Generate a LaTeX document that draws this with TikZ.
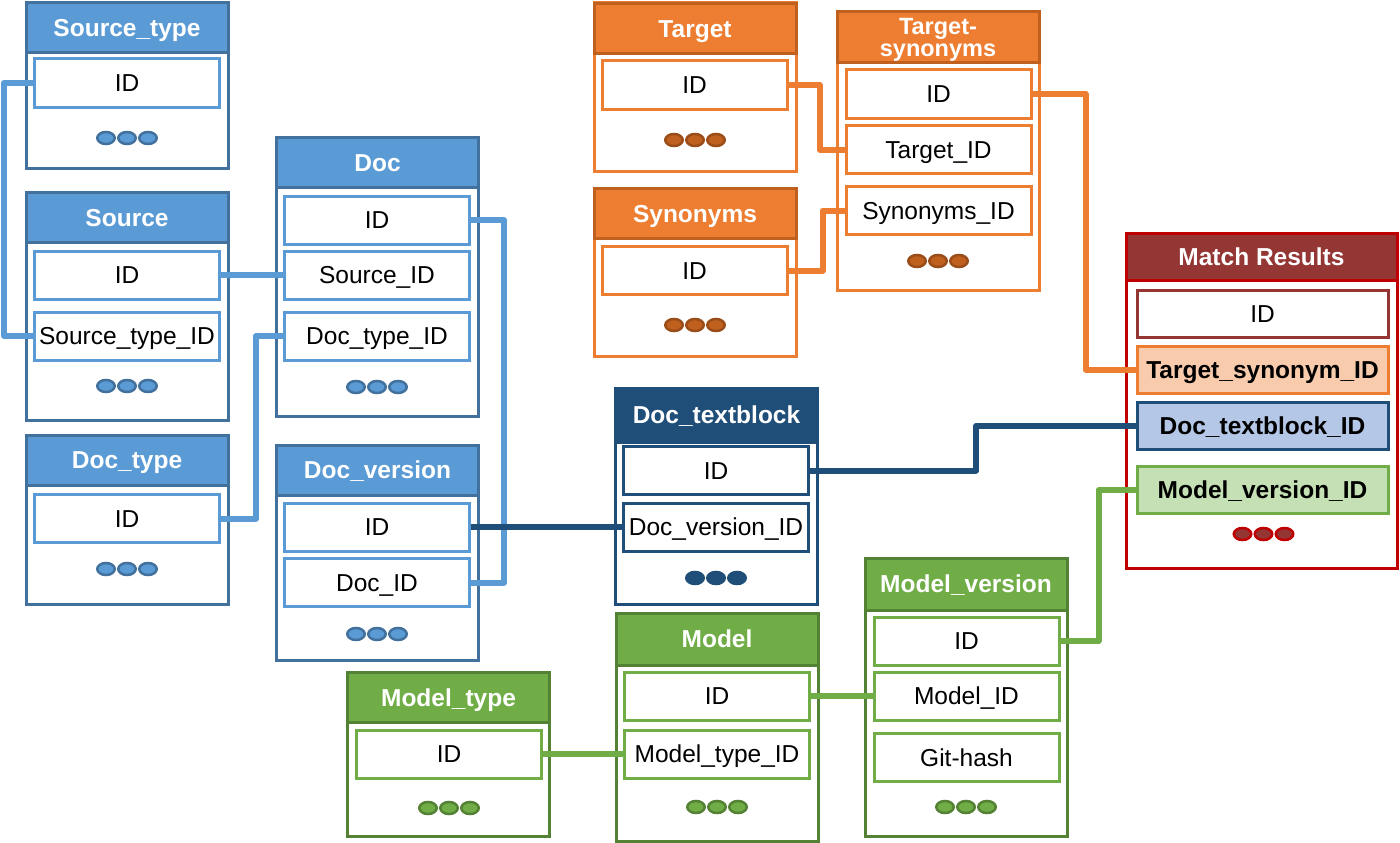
\documentclass[tikz,border=0pt]{standalone}
\usepackage{fontspec}
\setmainfont{Liberation Sans}
\usetikzlibrary{shapes.geometric}

\definecolor{lblue}{HTML}{5B9BD5}
\definecolor{lblueD}{HTML}{41719C}
\definecolor{dblue}{HTML}{1F4E79}
\definecolor{dblueL}{HTML}{B4C7E7}
\definecolor{orng}{HTML}{ED7D31}
\definecolor{orngD}{HTML}{C0601E}
\definecolor{orngL}{HTML}{F8CBAD}
\definecolor{grn}{HTML}{70AD47}
\definecolor{grnD}{HTML}{548235}
\definecolor{grnL}{HTML}{C5E0B4}
\definecolor{mred}{HTML}{943634}
\definecolor{mredD}{HTML}{C00000}

\begin{document}
\begin{tikzpicture}[x=1pt,y=-1pt,
  every node/.style={font=\fontsize{24.5}{28}\selectfont, inner sep=0pt},
  tbl/.style={draw=#1, line width=3pt, fill=white, minimum width=202pt},
  head/.style 2 args={draw=#2, fill=#1, line width=3pt, minimum width=202pt, minimum height=50pt,
    text=white, align=center, text height=17.5pt, text depth=0pt,
    font=\fontsize{24.5}{21}\selectfont\bfseries},
  fld/.style={draw=#1, line width=3pt, fill=white, minimum width=185pt, minimum height=48pt,
    text height=17.5pt, text depth=0pt},
  boldtxt/.style={font=\fontsize{24.5}{28}\selectfont\bfseries},
  dot/.style 2 args={ellipse, fill=#1, draw=#2, line width=2.5pt, minimum width=17.5pt, minimum height=12pt},
  link/.style={draw=#1, line width=6pt, line join=round}]
  \useasboundingbox (0,0) rectangle (1400,843);

  % Source_type
  \node[tbl=lblueD, minimum height=165pt] (stype) at (127,85.5) {};
  \node[head={lblue}{lblueD}] (stype-h) at (127,27.5) {Source\_type};
  \node[fld=lblue] (stype-id) at (127,83) {ID};

  % Source
  \node[tbl=lblueD, minimum height=227pt] (src) at (127,306.5) {};
  \node[head={lblue}{lblueD}] (src-h) at (127,217.5) {Source};
  \node[fld=lblue] (src-id) at (127,275) {ID};
  \node[fld=lblue] (src-stid) at (127,336) {Source\_type\_ID};

  % Doc_type
  \node[tbl=lblueD, minimum height=169pt] (dtype) at (127,519.5) {};
  \node[head={lblue}{lblueD}] (dtype-h) at (127,460) {Doc\_type};
  \node[fld=lblue] (dtype-id) at (127,518.5) {ID};

  % Doc
  \node[tbl=lblueD, minimum height=278pt] (doc) at (377.5,277) {};
  \node[head={lblue}{lblueD}] (doc-h) at (377.5,162.5) {Doc};
  \node[fld=lblue] (doc-id) at (377,220) {ID};
  \node[fld=lblue] (doc-srcid) at (377,275) {Source\_ID};
  \node[fld=lblue] (doc-dtid) at (377,336) {Doc\_type\_ID};

  % Doc_version
  \node[tbl=lblueD, minimum height=215pt] (dver) at (377.5,552.5) {};
  \node[head={lblue}{lblueD}] (dver-h) at (377.5,470) {Doc\_version};
  \node[fld=lblue] (dver-id) at (377,527) {ID};
  \node[fld=lblue] (dver-docid) at (377,582.5) {Doc\_ID};

  % Doc_textblock
  \node[tbl=dblue, minimum height=216pt] (dtb) at (716.5,496) {};
  \node[head={dblue}{dblue}, minimum height=54pt] (dtb-h) at (716.5,415) {Doc\_textblock};
  \node[fld=dblue] (dtb-id) at (716,470.5) {ID};
  \node[fld=dblue] (dtb-dvid) at (716,527) {Doc\_version\_ID};

  % Target
  \node[tbl=orng, minimum height=168pt] (tgt) at (695,87) {};
  \node[head={orng}{orngD}] (tgt-h) at (695,28.5) {Target};
  \node[fld=orng] (tgt-id) at (694.5,85) {ID};

  % Synonyms
  \node[tbl=orng, minimum height=168pt] (syn) at (695,272) {};
  \node[head={orng}{orngD}] (syn-h) at (695,213.5) {Synonyms};
  \node[fld=orng] (syn-id) at (694.5,270.5) {ID};

  % Target-synonyms
  \node[tbl=orng, minimum height=278pt] (ts) at (938,151) {};
  \node[head={orng}{orngD}, minimum height=51pt, text height=39pt,
    font=\fontsize{23.5}{22.5}\selectfont\bfseries] (ts-h) at (938,37.5) {Target-\\synonyms};
  \node[fld=orng] (ts-id) at (938.5,94) {ID};
  \node[fld=orng] (ts-tid) at (938.5,149.5) {Target\_ID};
  \node[fld=orng] (ts-sid) at (938.5,210.5) {Synonyms\_ID};

  % Model_type
  \node[tbl=grnD, minimum height=164pt] (mtype) at (448.5,754) {};
  \node[head={grn}{grnD}] (mtype-h) at (448.5,697.5) {Model\_type};
  \node[fld=grn] (mtype-id) at (449,754) {ID};

  % Model
  \node[tbl=grnD, minimum height=228pt] (mdl) at (717,727) {};
  \node[head={grn}{grnD}, minimum height=52pt] (mdl-h) at (717,639) {Model};
  \node[fld=grn] (mdl-id) at (717,696) {ID};
  \node[fld=grn] (mdl-mtid) at (717,754) {Model\_type\_ID};

  % Model_version
  \node[tbl=grnD, minimum height=278pt] (mver) at (966,697) {};
  \node[head={grn}{grnD}, minimum height=52pt] (mver-h) at (966,584) {Model\_version};
  \node[fld=grn] (mver-id) at (966.5,641) {ID};
  \node[fld=grn] (mver-mid) at (966.5,696) {Model\_ID};
  \node[fld=grn] (mver-git) at (966.5,757.5) {Git-hash};

  % Match Results
  \node[tbl=mredD, minimum width=271pt, minimum height=335pt] (mr) at (1261.5,400.5) {};
  \node[head={mred}{mredD}, minimum width=271pt, minimum height=47pt] (mr-h) at (1261.5,256.5) {Match Results};
  \node[fld=mred, minimum width=251pt, minimum height=47pt] (mr-id) at (1262.5,313.5) {ID};
  \node[fld=orng, fill=orngL, boldtxt, minimum width=251pt, minimum height=47pt] (mr-tsid) at (1262.5,369.5) {Target\_synonym\_ID};
  \node[fld=dblue, fill=dblueL, boldtxt, minimum width=251pt, minimum height=47pt] (mr-dtbid) at (1262.5,426) {Doc\_textblock\_ID};
  \node[fld=grn, fill=grnL, boldtxt, minimum width=251pt, minimum height=47pt] (mr-mvid) at (1262.5,490) {Model\_version\_ID};

  % dots
  \foreach \t/\x/\y/\c/\d in {stype/127/138/lblue/lblueD, src/127/386/lblue/lblueD,
      dtype/127/569/lblue/lblueD, doc/377/387/lblue/lblueD, dver/377/634/lblue/lblueD,
      dtb/716/578/dblue/dblue, tgt/695/140/orngD/orngD!80!black, syn/695/325/orngD/orngD!80!black,
      ts/938/261/orngD/orngD!80!black, mtype/449/808/grn/grnD, mdl/717/807/grn/grnD,
      mver/966/807/grn/grnD, mr/1263.5/534/mred/mredD}
    \foreach \k in {1,2,3}
      \node[dot={\c}{\d}] (\t-dot\k) at ({\x+21*(\k-2)},\y) {};

  % links
  \draw[link=lblue] (stype-id.west) -- ++(-29,0) |- (src-stid.west);
  \draw[link=lblue] (src-id.east) -- (doc-srcid.west);
  \draw[link=lblue] (dtype-id.east) -- ++(35,0) |- (doc-dtid.west);
  \draw[link=lblue] (doc-id.east) -- ++(33,0) |- (dver-docid.east);
  \draw[link=dblue] (dver-id.east) -- (dtb-dvid.west);
  \draw[link=dblue] (dtb-id.east) -- ++(166,0) |- (mr-dtbid.west);
  \draw[link=orng] (tgt-id.east) -- ++(31,0) |- (ts-tid.west);
  \draw[link=orng] (syn-id.east) -- ++(34,0) |- (ts-sid.west);
  \draw[link=orng] (ts-id.east) -- ++(53,0) |- (mr-tsid.west);
  \draw[link=grn] (mtype-id.east) -- (mdl-mtid.west);
  \draw[link=grn] (mdl-id.east) -- (mver-mid.west);
  \draw[link=grn] (mver-id.east) -- ++(38,0) |- (mr-mvid.west);
\end{tikzpicture}
\end{document}
